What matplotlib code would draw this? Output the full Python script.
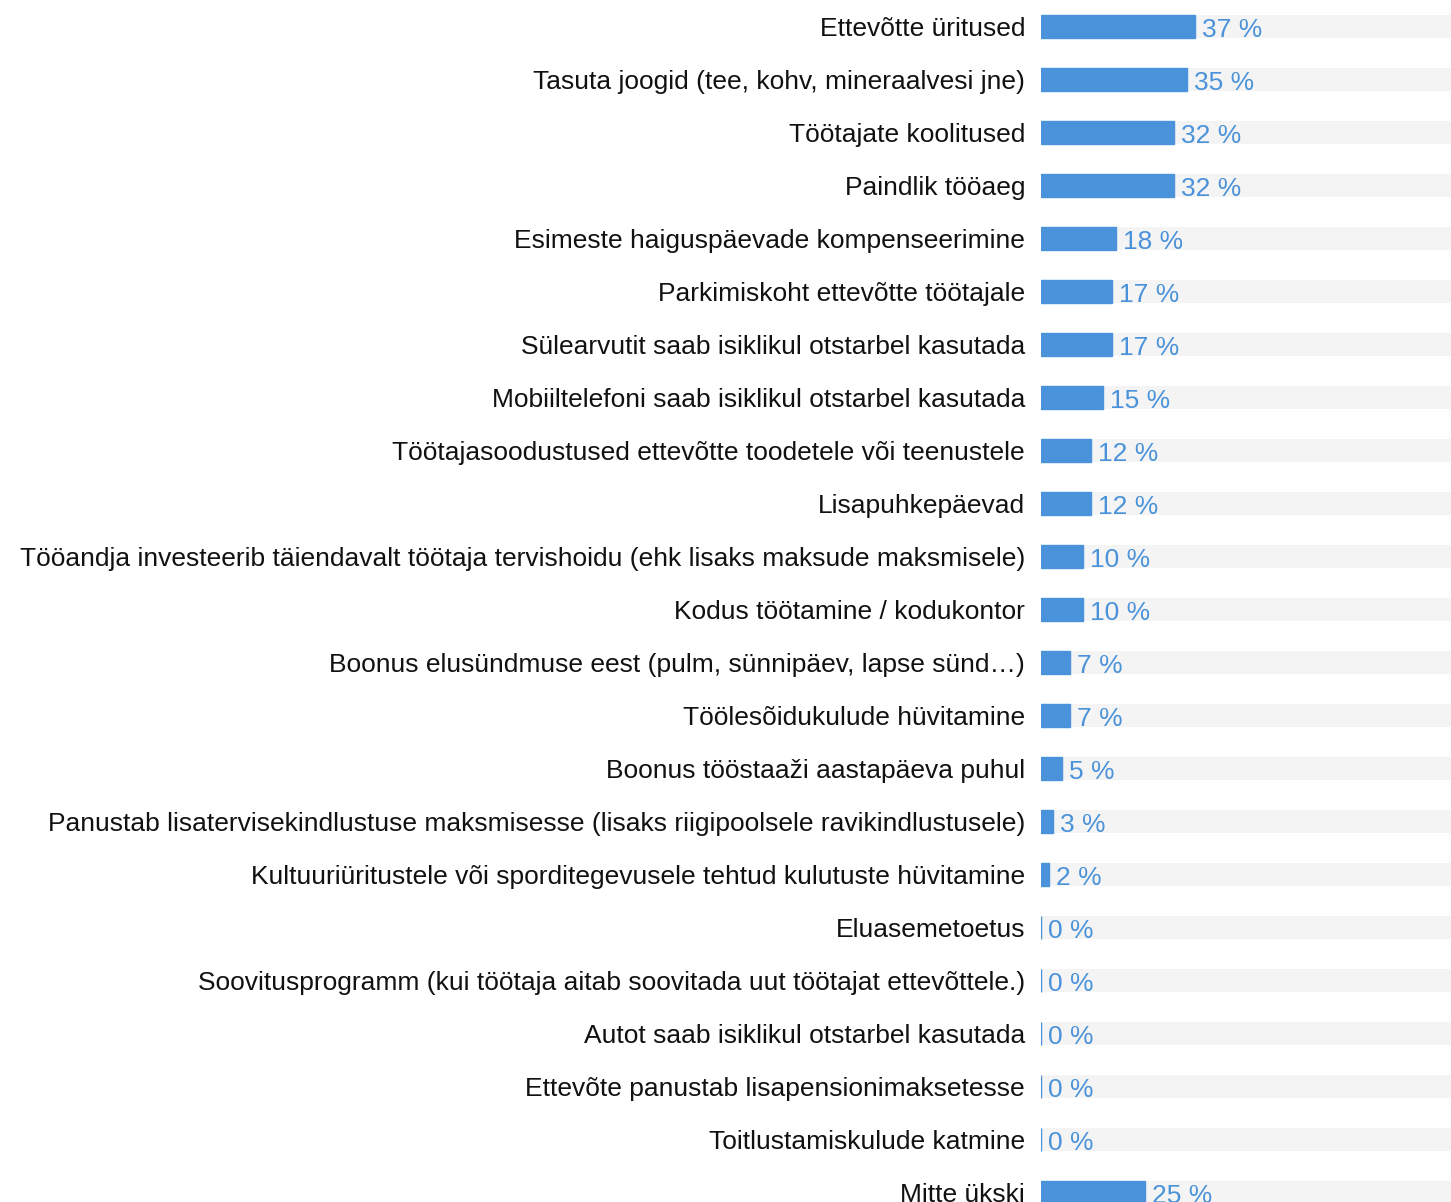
import matplotlib.pyplot as plt

# andmed
kategooriad = [
    "Ettevõtte üritused",
    "Tasuta joogid (tee, kohv, mineraalvesi jne)",
    "Töötajate koolitused",
    "Paindlik tööaeg",
    "Esimeste haiguspäevade kompenseerimine",
    "Parkimiskoht ettevõtte töötajale",
    "Sülearvutit saab isiklikul otstarbel kasutada",
    "Mobiiltelefoni saab isiklikul otstarbel kasutada",
    "Töötajasoodustused ettevõtte toodetele või teenustele",
    "Lisapuhkepäevad",
    "Tööandja investeerib täiendavalt töötaja tervishoidu (ehk lisaks maksude maksmisele)",
    "Kodus töötamine / kodukontor",
    "Boonus elusündmuse eest (pulm, sünnipäev, lapse sünd…)",
    "Töölesõidukulude hüvitamine",
    "Boonus tööstaaži aastapäeva puhul",
    "Panustab lisatervisekindlustuse maksmisesse (lisaks riigipoolsele ravikindlustusele)",
    "Kultuuriüritustele või sporditegevusele tehtud kulutuste hüvitamine",
    "Eluasemetoetus",
    "Soovitusprogramm (kui töötaja aitab soovitada uut töötajat ettevõttele.)",
    "Autot saab isiklikul otstarbel kasutada",
    "Ettevõte panustab lisapensionimaksetesse",
    "Toitlustamiskulude katmine",
    "Mitte ükski",
]
protsendid = [37, 35, 32, 32, 18, 17, 17, 15, 12, 12, 10, 10, 7, 7, 5, 3, 2, 0, 0, 0, 0, 0, 25]

sinine = "#4a92d9"
hall = "#f4f4f4"

fig = plt.figure(figsize=(14.51, 12.02), dpi=100)
ax = fig.add_axes([1041 / 1451, 0, 416 / 1451, 1])

y = list(range(len(kategooriad)))
ax.barh(y, [100] * len(y), height=0.434, color=hall, linewidth=0)
ax.barh(y, protsendid, height=0.434, color=sinine, edgecolor=sinine, linewidth=1)

for i, v in zip(y, protsendid):
    ax.annotate(f"{v} %", (v, i), xytext=(5, -7.4), textcoords="offset points",
                va="baseline", ha="left", color=sinine, fontsize=19,
                family="Liberation Sans")

ax.set_xlim(0, 100)
ax.set_ylim(22.18, -0.5)
ax.set_yticks(y)
ax.set_yticklabels(kategooriad, fontsize=19, family="Liberation Sans", color="#111111")
ax.tick_params(axis="y", length=0, pad=11.5)
ax.set_xticks([])
for s in ax.spines.values():
    s.set_visible(False)

fig.savefig("out.png", dpi=100)
